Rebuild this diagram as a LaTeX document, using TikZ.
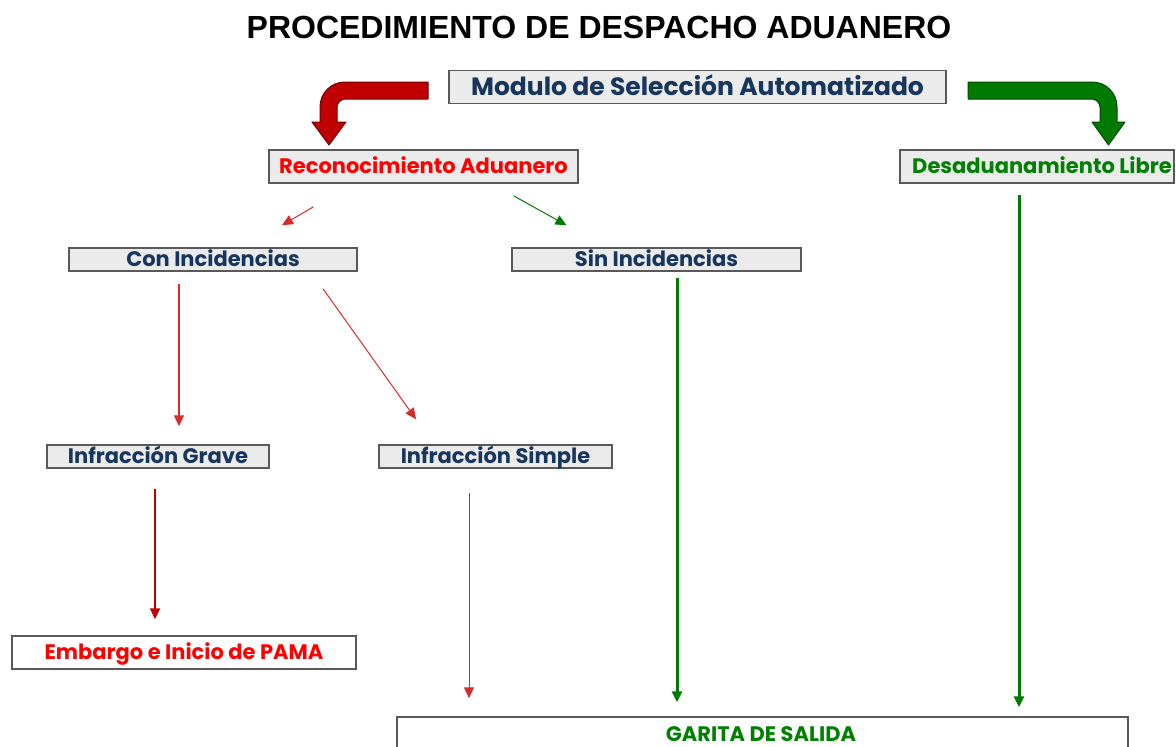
\documentclass[tikz,border=0pt]{standalone}
\usepackage{fontspec}
\setmainfont{Liberation Sans}
\newfontfamily\boxfont{Poppins}
\usetikzlibrary{arrows.meta}

\definecolor{navy}{HTML}{17365D}
\definecolor{txtred}{HTML}{FF0000}
\definecolor{txtgreen}{HTML}{008000}
\definecolor{boxgray}{HTML}{EBEBEB}
\definecolor{edgegray}{HTML}{595959}
\definecolor{arrred}{HTML}{C00000}
\definecolor{arrgreen}{HTML}{007A00}
\definecolor{linered}{HTML}{D52B2B}

\tikzset{
  box/.style={draw=edgegray, line width=1.5pt, fill=boxgray, inner sep=0pt,
    text=navy, text height=18pt, text depth=3.3pt},
  bigbox/.style={box, minimum height=33pt,
    font=\boxfont\bfseries\fontsize{21}{25}\selectfont},
  smallbox/.style={box, minimum height=23pt,
    font=\boxfont\bfseries\fontsize{21}{25}\selectfont},
  whitebox/.style={bigbox, fill=white},
  tip/.style={-{Triangle[length=11pt,width=10pt]}},
  redline/.style={tip, draw=linered, line width=1pt},
  greenline/.style={tip, draw=arrgreen, line width=1pt},
  redbar/.style={tip, draw=arrred, line width=2pt},
  greenbar/.style={tip, draw=arrgreen, line width=3pt},
  bentarrow/.style={line width=1pt, line join=round}
}

\begin{document}
\begin{tikzpicture}[x=1pt, y=-1pt]
  \useasboundingbox (0,0) rectangle (1176,747);

  % Title
  \node (title) at (599,27) {\fontsize{32}{38}\selectfont\bfseries PROCEDIMIENTO DE DESPACHO ADUANERO};

  % Boxes
  \node[bigbox, minimum width=497pt, text height=21pt, text depth=3.5pt,
    font=\boxfont\bfseries\fontsize{25}{30}\selectfont] (msa) at (697.5,87) {Modulo de Selección Automatizado};
  \node[bigbox, minimum width=309pt, text=txtred] (rec) at (423.5,166.5) {Reconocimiento Aduanero};
  \node[bigbox, minimum width=274pt, text=txtgreen] (des) at (1037,166.5) {\hspace*{10pt}Desaduanamiento Libre};
  \node[smallbox, minimum width=288pt] (con) at (213,259.5) {Con Incidencias};
  \node[smallbox, minimum width=289pt] (sin) at (656.5,259.5) {Sin Incidencias};
  \node[smallbox, minimum width=222pt] (grave) at (158,456.5) {Infracción Grave};
  \node[smallbox, minimum width=233pt] (simple) at (495.5,456.5) {Infracción Simple};
  \node[whitebox, minimum width=344pt, text=txtred] (pama) at (184,652.5) {Embargo e Inicio de PAMA};
  \node[whitebox, minimum width=731pt, minimum height=60pt] (garita) at (762.5,747) {};
  \node[font=\boxfont\bfseries\fontsize{21}{25}\selectfont, text=txtgreen, inner sep=0pt,
    text height=18pt, text depth=3.3pt] (garitatxt) at (761,734) {GARITA DE SALIDA};

  % Bent arrows out of the selection module
  \filldraw[bentarrow, fill=arrred, draw=arrred!60!black]
    (428,82) -- (345,82) .. controls (331,82) and (320,93) .. (320,107)
    -- (320,122) -- (312,122) -- (329,145) -- (346,122) -- (337,122)
    -- (337,107) .. controls (337,103) and (341,99) .. (345,99)
    -- (428,99) -- cycle;
  \filldraw[bentarrow, fill=arrgreen, draw=arrgreen!60!black]
    (968,82) -- (1092,82) .. controls (1106,82) and (1117,93) .. (1117,107)
    -- (1117,122) -- (1125,122) -- (1108.5,145) -- (1092,122) -- (1100,122)
    -- (1100,107) .. controls (1100,103) and (1096,99) .. (1092,99)
    -- (968,99) -- cycle;

  % Connectors
  \draw[redline] ([xshift=-110pt,yshift=-23pt]rec.south) -- ([xshift=69pt,yshift=22pt]con.north);
  \draw[greenline] ([xshift=90pt,yshift=-12pt]rec.south) -- ([xshift=-90pt,yshift=22pt]sin.north);
  \draw[redline, line width=1.3pt] ([xshift=-34pt,yshift=-12pt]con.south) -- ([xshift=21pt,yshift=18pt]grave.north);
  \draw[redline] ([xshift=110pt,yshift=-17pt]con.south) -- ([xshift=-79.5pt,yshift=25pt]simple.north);
  \draw[greenbar] ([xshift=20.5pt,yshift=-6pt]sin.south) -- ([xshift=-85.5pt,yshift=14pt]garita.north);
  \draw[greenbar] ([xshift=-18pt,yshift=-11pt]des.south) -- ([xshift=256.5pt,yshift=9pt]garita.north);
  \draw[redbar] ([xshift=-3pt,yshift=-20pt]grave.south) -- ([xshift=-29pt,yshift=16pt]pama.north);
  \draw[redline] ([xshift=-26.5pt,yshift=-24pt]simple.south) -- ([xshift=-293.5pt,yshift=18pt]garita.north);
\end{tikzpicture}
\end{document}
